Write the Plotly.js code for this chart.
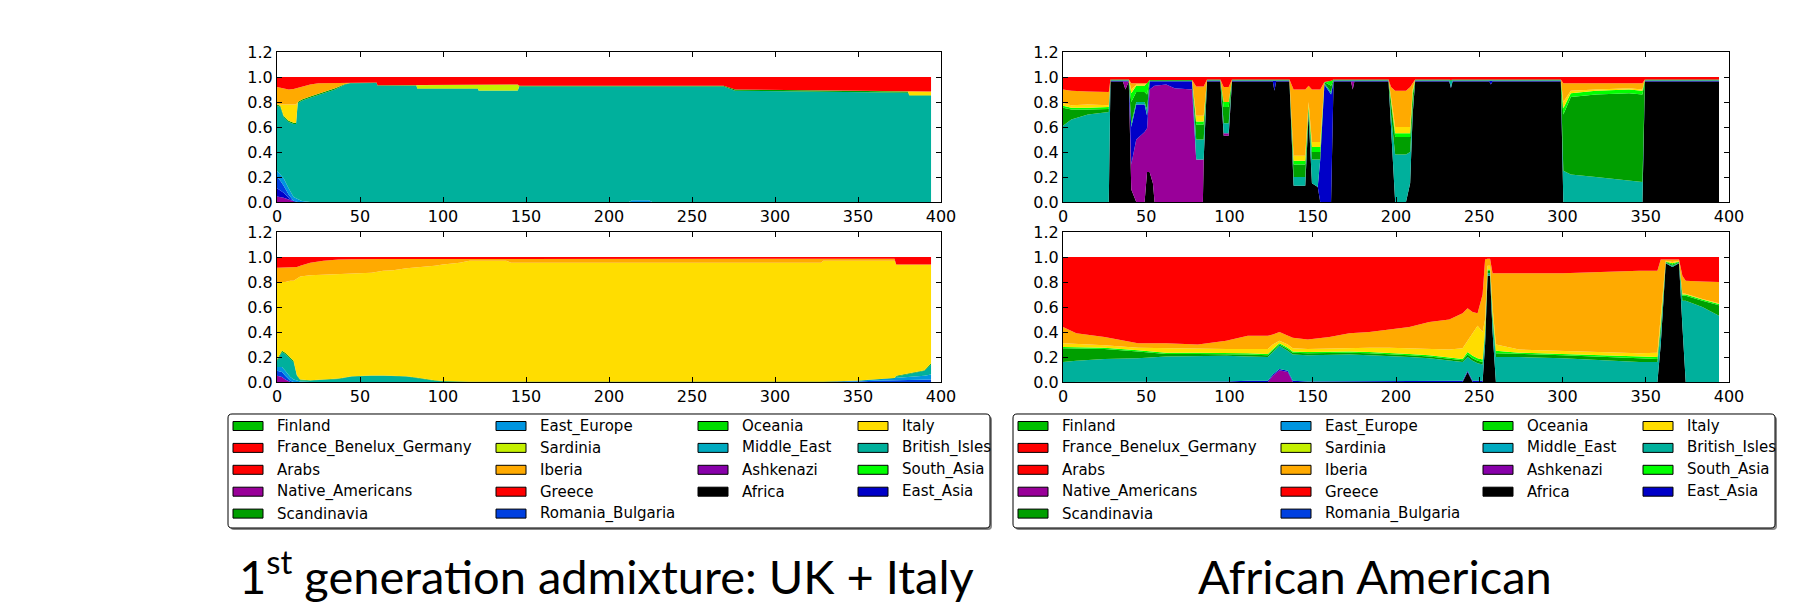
<!DOCTYPE html>
<html>
<head>
<meta charset="utf-8">
<script src="https://cdn.plot.ly/plotly-3.0.1.min.js"></script>
<style>html,body{margin:0;padding:0;background:#fff}#chart{width:1809px;height:607px}</style>
</head>
<body>
<div id="chart"></div>
<script>
// ---------------- categories (legend order, column-major) ----------------
const categories = ['Finland','France_Benelux_Germany','Arabs','Native_Americans','Scandinavia',
  'East_Europe','Sardinia','Iberia','Greece','Romania_Bulgaria',
  'Oceania','Middle_East','Ashkenazi','Africa',
  'Italy','British_Isles','South_Asia','East_Asia'];
const categoryColors = ['#00c000','#ff0000','#ff0000','#990099','#009f00',
  '#0095e0','#c4f000','#ffaa00','#ff0000','#0040e0',
  '#00dd00','#00aac0','#8800aa','#000000',
  '#ffdd00','#00b09c','#00ff00','#0000c8'];
// stacking order, bottom to top
const stackOrder = ['Africa','Native_Americans','East_Asia','Romania_Bulgaria','East_Europe','British_Isles',
  'Scandinavia','South_Asia','Sardinia','Italy','Iberia','France_Benelux_Germany'];
const xTicks = [0,50,100,150,200,250,300,350,400];
const yTicks = [0,0.2,0.4,0.6,0.8,1.0,1.2];
const chartTitles = ['1<sup>st</sup> generation admixture: UK + Italy','African American'];

// ---------------- panel 1: UK + Italy, first copy ----------------
const p1_x = [0,2,4,7,10,11.5,12.5,15,20,25,30,35,41,44,60,60.5,84,84.5,121,121.5,145,146,212,214,224,226,269,276,380,381,394];
const p1_Native_Americans = [.045,.04,.035,.02,.005,0,0,0,0,0,0,0,0,0,0,0,0,0,0,0,0,0,0,0,0,0,0,0,0,0,0];
const p1_East_Asia = [.065,.055,.04,.015,0,0,0,0,0,0,0,0,0,0,0,0,0,0,0,0,0,0,0,0,0,0,0,0,0,0,0];
const p1_Romania_Bulgaria = [.09,.075,.055,.025,.005,0,0,0,0,0,0,0,0,0,0,0,0,0,0,0,0,0,0,0,0,0,0,0,0,0,0];
const p1_East_Europe = [.05,.05,.06,.05,.03,.03,.025,.008,0,0,0,0,0,0,0,0,0,0,0,0,0,0,0,.015,.015,0,0,0,0,0,0];
const p1_British_Isles = [.52,.54,.49,.53,.585,.595,.765,.802,.835,.855,.875,.90,.94,.95,.953,.93,.93,.905,.905,.89,.89,.925,.925,.91,.91,.925,.925,.89,.875,.85,.85];
const p1_Scandinavia = [.01,.01,.01,.01,.01,.01,.01,.01,.01,.01,.01,.01,.005,.003,.003,.005,.005,.003,.003,.003,.003,.005,.005,.005,.005,.005,.005,.01,.01,.005,.005];
const p1_Sardinia = [0,0,0,0,0,0,0,0,0,0,0,0,0,0,0,0,0,.027,.027,.047,.047,0,0,0,0,0,0,0,0,0,0];
const p1_Italy = [0,.01,.09,.13,.145,.145,0,0,0,0,0,0,0,0,0,0,0,0,0,0,0,0,0,0,0,0,0,0,0,.03,.03];
const p1_Iberia = [.14,.135,.13,.12,.125,.13,.11,.10,.095,.085,.065,.04,.008,0,0,0,0,0,0,0,0,0,0,0,0,0,0,0,0,0,0];
const p1_France = [.08,.085,.09,.10,.095,.09,.09,.08,.06,.05,.05,.05,.047,.047,.044,.065,.065,.065,.065,.06,.06,.07,.07,.07,.07,.07,.07,.10,.115,.115,.115];

// ---------------- panel 2: UK + Italy, second copy ----------------
const p2_x = [0,3,5,8,10,12,14,20,28,37,45,52,57,64,70,78,84,89,95,100,110,116,138,141,328,329,350,360,372,373,385,390,394];
const p2_Native_Americans = [.05,.04,.02,0,0,0,0,0,0,0,0,0,0,0,0,0,0,0,0,0,0,0,0,0,0,0,0,0,0,0,0,0,0];
const p2_Romania_Bulgaria = [.04,.04,.03,.01,0,0,0,0,0,0,0,0,0,0,0,0,0,0,0,0,0,0,0,0,0,0,.005,.01,.015,.015,.02,.02,.02];
const p2_East_Europe = [.03,.04,.04,.03,.02,.01,.005,0,0,0,0,0,0,0,0,0,0,0,0,0,0,0,0,0,0,0,.005,.01,.015,.02,.025,.03,.04];
const p2_British_Isles = [.05,.12,.135,.15,.14,.04,.01,.012,.017,.025,.044,.05,.05,.05,.05,.044,.033,.022,.011,.005,.002,0,0,0,0,0,0,0,0,.01,.03,.04,.08];
const p2_Scandinavia = [.01,.01,.01,.01,.01,.005,.005,.003,.003,.003,.003,.003,.003,.003,.003,.003,.003,.003,.003,.003,.003,.003,.003,.003,.003,.003,.003,.003,.003,.005,.005,.005,.01];
const p2_Italy = [.61,.55,.565,.61,.64,.775,.825,.84,.84,.834,.818,.817,.822,.837,.842,.863,.879,.895,.916,.932,.95,.967,.967,.952,.952,.967,.957,.947,.937,.89,.86,.845,.79];
const p2_Iberia = [.125,.115,.12,.11,.105,.09,.085,.10,.11,.118,.117,.115,.11,.095,.09,.075,.07,.065,.055,.045,.03,.015,.015,.03,.03,.015,.015,.015,.015,0,0,0,0];
const p2_France = [.085,.085,.08,.08,.085,.08,.07,.045,.03,.02,.018,.015,.015,.015,.015,.015,.015,.015,.015,.015,.015,.015,.015,.015,.015,.015,.015,.015,.015,.06,.06,.06,.06];

// ---------------- panel 3: African American, first copy ----------------
const p3_x = [0,5,15,27.5,28.5,36,37.5,39.5,41,44,49,50.5,52,54,55,62,67,77.5,80,84,84.5,86.5,94.5,96.5,99.5,101.5,126,127,128,136,138.5,145.5,147.5,149.5,153,154.5,157,161,162.5,173,174,175,195.5,197,199.5,206,208.5,210,211.5,232,233,234,256,257,258,299,300.5,305,320,340,348,349.5,394];
const p3_Africa = [0,0,0,0, .965,.965,.90,.965, .10,0,0,.24, .24,.15,0,0, 0,0,0,0, .34,.965,.965,.53, .53,.965,.965,.89, .965,.965,.13,.13, .70,.15,.12,0, 0,0,.965,.965, .90,.965,.965,.60, 0,0,.15,.70, .965,.965,.91,.965, .965,.94,.965,.965, 0,0,0,0, 0,.965,.965];
const p3_Native_Americans = [0,0,0,0, 0,0,.06,0, .20,.50,.56,.35, .66,.77,.93,.94, .91,.90,.34,.34, 0,0,0,.02, .02,0,0,0, 0,0,0,0, 0,0,0,0, 0,0,0,0, .065,0,0,0, 0,0,0,0, 0,0,0,0, 0,0,0,0, 0,0,0,0, 0,0,0];
const p3_East_Asia = [0,0,0,0, .005,.005,.005,.005, .30,.28,.22,.10, .065,.045,.035,.025, .055,.065,0,0, 0,.005,.005,0, 0,.005,.005,.075, .005,.005,0,0, 0,0,0,.34, .94,.86,.005,.005, .005,.005,.005,0, 0,0,0,0, .005,.005,.005,.005, .005,.03,.005,.005, 0,0,0,0, 0,.005,.005];
const p3_British_Isles = [.61,.66,.70,.72, .005,.005,.005,.005, .03,.02,.02,.05, .005,.005,.005,.005, .005,.005,.16,.16, .16,.005,.005,.08, .08,.005,.005,.005, .005,.005,.07,.07, .02,.19,.22,0, .01,.02,.005,.005, .005,.005,.005,.10, .38,.38,.25,.05, .005,.005,.055,.005, .005,.005,.005,.005, .25,.22,.20,.17, .16,.005,.005];
const p3_Scandinavia = [.145,.08,.04,.025, .005,.005,.01,.005, .17,.08,.08,.12, .005,.005,.005,.005, .005,.005,.12,.12, .12,.005,.005,.13, .13,.005,.005,.005, .005,.005,.10,.10, .03,.06,.06,.06, .01,.05,.005,.005, .005,.005,.005,.10, .14,.14,.12,.10, .005,.005,.005,.005, .005,.005,.005,.005, .45,.62,.66,.70, .70,.005,.005];
const p3_South_Asia = [.015,.015,.015,.015, 0,0,0,0, .07,.05,.05,.09, 0,0,0,0, 0,0,.025,.025, .025,0,0,.04, .04,0,0,0, 0,0,.03,.03, .02,.04,.04,.04, 0,.04,0,0, 0,0,0,.02, .03,.03,.03,.03, 0,0,0,0, 0,0,0,0, .05,.03,.03,.03, .03,0,0];
const p3_Italy = [.02,.02,.025,.015, 0,0,0,0, .03,.01,.01,0, 0,0,0,0, 0,0,.045,.045, .045,0,0,0, 0,0,0,0, 0,0,.04,.04, .03,.04,.04,.04, 0,0,0,0, 0,0,0,.02, .05,.05,.05,.02, 0,0,0,0, 0,0,0,0, .05,.02,.01,.01, .01,0,0];
const p3_Iberia = [.11,.115,.105,.105, 0,0,0,0, .05,.01,.01,0, 0,0,0,0, 0,0,.235,.235, .235,0,0,.12, .12,0,0,0, 0,0,.53,.53, .13,.42,.42,.42, 0,0,0,0, 0,0,0,.08, .29,.29,.32,.05, 0,0,0,0, 0,0,0,0, .15,.06,.05,.04, .05,0,0];
const p3_France = [.10,.11,.115,.12, .02,.02,.02,.02, .05,.05,.05,.05, .025,.025,.025,.025, .025,.025,.075,.075, .075,.02,.02,.08, .08,.02,.02,.025, .02,.02,.10,.10, .07,.10,.10,.10, .04,.03,.02,.02, .02,.02,.02,.08, .11,.11,.08,.05, .02,.02,.025,.02, .02,.02,.02,.02, .05,.05,.05,.05, .05,.02,.02];

// ---------------- panel 4: African American, second copy ----------------
const p4_x = [0,8,25,45,62,81,98,111,123,126,130,135,138,147,160,172,184,196,208,220,232,240,243,246,249,252,253.5,255,256.5,258,260,274,300,346,357,359,362,366,370,372,374,384,394];
const p4_Africa = [0,0,0,0,0,0,0,0,0,0,0,0,0,0,0,0,0,0,0,0,0,0,.08,0,0,0,.30,.85,.85,.40,0,0,0,0,0,.30,.95,.92,.95,.45,0,0,0];
const p4_Native_Americans = [0,0,0,0,0,0,0,0,0,.05,.095,.08,0,0,0,0,0,0,0,0,0,0,0,0,0,0,0,0,0,0,0,0,0,0,0,0,0,0,0,0,0,0,0];
const p4_East_Asia = [0,0,0,0,0,0,.005,.01,.01,.01,.01,.01,.01,.005,.005,.005,.005,.005,.005,.005,.005,.01,.01,.01,.01,.01,0,0,0,0,0,0,0,0,0,0,0,0,0,0,0,0,0];
const p4_British_Isles = [.16,.17,.185,.19,.205,.21,.205,.195,.19,.18,.185,.16,.21,.21,.215,.215,.21,.205,.195,.185,.17,.15,.11,.16,.14,.13,.08,.02,.02,.10,.20,.20,.19,.16,.16,.10,.005,.01,.005,.20,.65,.60,.53];
const p4_Scandinavia = [.11,.10,.08,.055,.02,.015,.015,.015,.015,.015,.01,.015,.015,.015,.015,.015,.015,.015,.015,.015,.015,.015,.02,.02,.02,.02,.02,.02,.02,.03,.03,.025,.025,.03,.025,.05,.005,.01,.005,.04,.04,.05,.085];
const p4_South_Asia = [.01,.01,.01,.01,.01,.01,.01,.01,.01,.01,.01,.01,.01,.01,.01,.01,.01,.01,.01,.01,.01,.01,.02,.02,.02,.02,.02,.01,.01,.02,.02,.01,.01,.01,.015,.02,.005,.01,.005,.01,.01,.01,.01];
const p4_Italy = [.03,.025,.02,.02,.035,.03,.03,.035,.04,.035,.02,.025,.025,.025,.025,.03,.035,.04,.045,.05,.06,.085,.09,.19,.26,.22,.08,.03,.03,.05,.05,.025,.025,.03,.035,.08,.005,.01,.005,.01,.005,.005,.005];
const p4_Iberia = [.13,.085,.065,.035,.04,.035,.065,.105,.105,.08,.07,.07,.085,.075,.09,.115,.125,.145,.17,.215,.24,.28,.26,.16,.10,.30,.48,.055,.055,.27,.57,.605,.62,.66,.655,.43,.01,.02,.01,.14,.105,.14,.17];
const p4_France = [.56,.61,.64,.69,.69,.70,.67,.63,.63,.62,.60,.63,.645,.66,.64,.61,.60,.58,.56,.52,.50,.45,.41,.44,.45,.30,.02,.015,.015,.13,.13,.135,.13,.11,.11,.02,.02,.02,.02,.15,.19,.195,.20];

// ---------------- build ----------------
const W = 1809, H = 607;
const PX = p => p / W, PY = p => 1 - p / H;
const colorOf = name => categoryColors[categories.indexOf(name)];

const panels = [
  {x: p1_x, ax: '', series: {Native_Americans: p1_Native_Americans, East_Asia: p1_East_Asia, Romania_Bulgaria: p1_Romania_Bulgaria,
     East_Europe: p1_East_Europe, British_Isles: p1_British_Isles, Scandinavia: p1_Scandinavia, Sardinia: p1_Sardinia,
     Italy: p1_Italy, Iberia: p1_Iberia, France_Benelux_Germany: p1_France}, left: 277, right: 941, top: 52, bottom: 202},
  {x: p2_x, ax: '2', series: {Native_Americans: p2_Native_Americans, Romania_Bulgaria: p2_Romania_Bulgaria, East_Europe: p2_East_Europe,
     British_Isles: p2_British_Isles, Scandinavia: p2_Scandinavia, Italy: p2_Italy, Iberia: p2_Iberia,
     France_Benelux_Germany: p2_France}, left: 277, right: 941, top: 232, bottom: 382},
  {x: p3_x, ax: '3', series: {Africa: p3_Africa, Native_Americans: p3_Native_Americans, East_Asia: p3_East_Asia,
     British_Isles: p3_British_Isles, Scandinavia: p3_Scandinavia, South_Asia: p3_South_Asia, Italy: p3_Italy,
     Iberia: p3_Iberia, France_Benelux_Germany: p3_France}, left: 1063, right: 1729, top: 52, bottom: 202},
  {x: p4_x, ax: '4', series: {Africa: p4_Africa, Native_Americans: p4_Native_Americans, East_Asia: p4_East_Asia,
     British_Isles: p4_British_Isles, Scandinavia: p4_Scandinavia, South_Asia: p4_South_Asia, Italy: p4_Italy,
     Iberia: p4_Iberia, France_Benelux_Germany: p4_France}, left: 1063, right: 1729, top: 232, bottom: 382}
];

const tickFont = {family: 'DejaVu Sans', size: 16, color: '#000'};
const traces = [];
const layout = {
  width: W, height: H, margin: {l: 0, r: 0, t: 0, b: 0},
  paper_bgcolor: '#fff', plot_bgcolor: '#fff', showlegend: false,
  font: {family: 'DejaVu Sans', color: '#000'},
  shapes: [], annotations: []
};

panels.forEach((p, i) => {
  const xa = 'x' + p.ax, ya = 'y' + p.ax;
  stackOrder.forEach(name => {
    if (!p.series[name]) return;
    traces.push({
      type: 'scatter', mode: 'lines', x: p.x, y: p.series[name], name: name,
      stackgroup: 'g' + i, xaxis: xa, yaxis: ya,
      line: {width: 0, color: colorOf(name)}, fillcolor: colorOf(name),
      hoverinfo: 'skip', showlegend: false
    });
  });
  const common = {ticks: 'inside', ticklen: 5, tickwidth: 1, tickcolor: '#000', showline: true, linecolor: '#000',
    linewidth: 1, mirror: 'ticks', showgrid: false, zeroline: false, tickfont: tickFont, fixedrange: true};
  layout['xaxis' + p.ax] = Object.assign({}, common, {
    domain: [PX(p.left), PX(p.right)], anchor: ya, range: [0, 400],
    tickmode: 'array', tickvals: xTicks, ticktext: xTicks.map(String)
  });
  layout['yaxis' + p.ax] = Object.assign({}, common, {
    domain: [PY(p.bottom), PY(p.top)], anchor: xa, range: [0, 1.2],
    tickmode: 'array', tickvals: yTicks, ticktext: yTicks.map(v => v.toFixed(1))
  });
});

// legends (matplotlib style: 4 columns, 5/5/4/4 items)
function roundRect(l, t, r, b, k) {
  const P = (x, y) => PX(x).toFixed(5) + ',' + PY(y).toFixed(5);
  return 'M' + P(l + k, t) + 'L' + P(r - k, t) + 'Q' + P(r, t) + ' ' + P(r, t + k) +
    'L' + P(r, b - k) + 'Q' + P(r, b) + ' ' + P(r - k, b) + 'L' + P(l + k, b) +
    'Q' + P(l, b) + ' ' + P(l, b - k) + 'L' + P(l, t + k) + 'Q' + P(l, t) + ' ' + P(l + k, t) + 'Z';
}
const colStarts = [0, 5, 10, 14];
const colOffsets = [5, 268, 470, 630];
[228, 1013].forEach(boxL => {
  const boxT = 414, boxB = 528, boxR = boxL + 762;
  layout.shapes.push({type: 'path', xref: 'paper', yref: 'paper', path: roundRect(boxL + 2, boxT + 2, boxR + 2, boxB + 2, 4),
    fillcolor: '#888', line: {width: 0}});
  layout.shapes.push({type: 'path', xref: 'paper', yref: 'paper', path: roundRect(boxL, boxT, boxR, boxB, 4),
    fillcolor: '#fff', line: {color: '#000', width: 1}});
  categories.forEach((name, idx) => {
    let col = 0;
    for (let c = 0; c < colStarts.length; c++) if (idx >= colStarts[c]) col = c;
    const row = idx - colStarts[col];
    const cy = 426 + row * 21.9;
    const x0 = boxL + colOffsets[col];
    layout.shapes.push({type: 'rect', xref: 'paper', yref: 'paper',
      x0: PX(x0), x1: PX(x0 + 30), y0: PY(cy + 4.5), y1: PY(cy - 4.5),
      fillcolor: categoryColors[idx], line: {color: '#000', width: 1}});
    layout.annotations.push({xref: 'paper', yref: 'paper', x: PX(x0 + 42), y: PY(cy), xanchor: 'left', yanchor: 'middle',
      text: name, showarrow: false, font: {family: 'DejaVu Sans', size: 15, color: '#000'}});
  });
});

// chart titles (bottom-anchored so both baselines line up)
[[606, chartTitles[0]], [1375, chartTitles[1]]].forEach(([cx, txt]) => {
  layout.annotations.push({xref: 'paper', yref: 'paper', x: PX(cx), y: PY(606), xanchor: 'center', yanchor: 'bottom',
    text: txt, showarrow: false, font: {family: 'Lato', size: 47, color: '#000'}});
});

Plotly.newPlot('chart', traces, layout, {staticPlot: true, displayModeBar: false});
</script>
</body>
</html>
